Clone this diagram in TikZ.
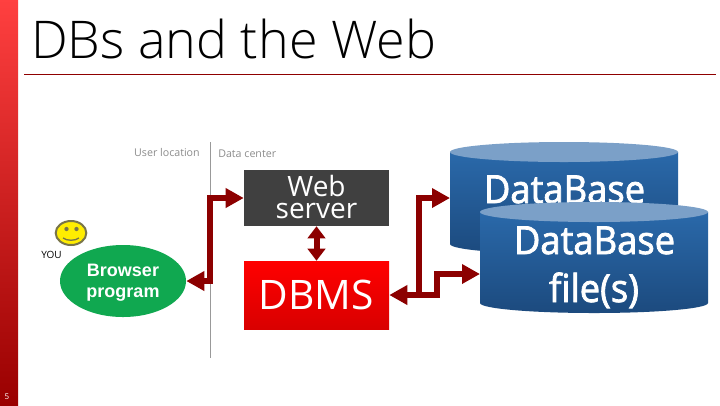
\documentclass[tikz,border=0pt]{standalone}
\usepackage{fontspec}
\setmainfont{Open Sans}
\newfontfamily\arialf{Liberation Sans}
\newfontfamily\thinf[UprightFont=* Light]{Open Sans}
\newfontfamily\dbf[FakeBold=2,FakeStretch=0.94]{Open Sans}
\usetikzlibrary{arrows.meta,shapes.geometric}
\definecolor{arrowred}{HTML}{8C0000}
\definecolor{cyltop}{HTML}{7BA0C8}
\definecolor{cylhi}{HTML}{2A69AA}
\definecolor{cyllo}{HTML}{1C4A7E}
\definecolor{browsergreen}{HTML}{10A850}
\tikzset{
  conn/.style={draw=arrowred,line width=4.5pt,line join=miter,-{Triangle[length=13.5pt,width=14pt]}},
  conntwo/.style={conn,{Triangle[length=13.5pt,width=14pt]}-{Triangle[length=13.5pt,width=14pt]}},
  connshort/.style={conn,{Triangle[length=9pt,width=13pt]}-{Triangle[length=9pt,width=13pt]}},
  graytext/.style={text=black!45,font=\fontsize{8}{9}\selectfont,inner sep=0pt},
  box/.style={minimum width=108.75pt,inner sep=0pt,text=white,align=center},
  dbtext/.style={text=white,inner sep=0pt,align=center,font=\dbf\fontsize{29}{33}\selectfont},
}
\begin{document}
\begin{tikzpicture}[x=0.75pt,y=-0.75pt]
\useasboundingbox (0,0) rectangle (720,405);
\fill[white] (0,0) rectangle (720,405);
% side bar
\shade[top color=red!75!white,middle color=black!20!red,bottom color=black!40!red] (0,0) rectangle (18,405);
\node[text=white,inner sep=0pt,font=\fontsize{6}{7}\selectfont] (page) at (7,397) {5};
% title
\node[anchor=base west,inner sep=0pt,font=\thinf\fontsize{39}{48}\selectfont] (title) at (31,58) {DBs and the Web};
\draw[draw=black!30!red!80!black,line width=0.6pt] (24,74) -- (716,74);
% divider
\draw[black!40,line width=0.8pt] (210.5,142) -- (210.5,358);
\node[graytext,anchor=east] (user) at (200,152.5) {User location};
\node[graytext,anchor=west] (center) at (218,153.5) {Data center};
% smiley
\filldraw[fill=yellow!95!orange,draw=black!60!yellow,line width=1.5pt] (71,233) ellipse [x radius=11.5pt,y radius=9pt];
\fill[black!60!yellow] (66.5,229) circle [radius=1.6pt] (76.5,229) circle [radius=1.6pt];
\draw[black!60!yellow,line width=1pt] (63,238) .. controls (67,241) and (75,241) .. (79,238);
\node[inner sep=0pt,font=\fontsize{7.5}{9}\selectfont] (you) at (51.5,254.5) {YOU};
% browser
\node[ellipse,fill=browsergreen,minimum width=94.5pt,minimum height=54pt,inner sep=0pt] (browser) at (123,281) {};
\node[inner sep=0pt,text=white,align=center,font=\arialf\bfseries\fontsize{13.5}{15.75}\selectfont] (browsertext) at (123,283) {Browser\\program};
% boxes
\node[box,fill=black!75,minimum height=42pt] (web) at (316.5,198) {};
\node[inner sep=0pt,text=white,align=center,font=\fontsize{21}{17}\selectfont] (webtext) at (316.5,197) {Web\\server};
\node[box,minimum height=51pt,font=\fontsize{30.5}{36}\selectfont,top color=red,bottom color=black!15!red] (dbms) at (316.5,295) {DBMS};
% cylinder back
\shade[top color=cylhi,bottom color=cyllo] (450,152) -- (450,244) arc[start angle=180,end angle=360,x radius=85.5pt,y radius=7.5pt] -- (678,152) -- cycle;
\fill[cyltop] (564,152) ellipse [x radius=85.5pt,y radius=7.5pt];
\coordinate (dbA) at (450,198);
\node[dbtext,anchor=base] (dbAt) at (564.5,203) {DataBase};
% cylinder front
\shade[top color=cylhi,bottom color=cyllo] (480,212) -- (480,303) arc[start angle=180,end angle=360,x radius=85.5pt,y radius=7.5pt] -- (708,212) -- cycle;
\fill[cyltop] (594,212) ellipse [x radius=85.5pt,y radius=7.5pt];
\coordinate (dbB) at (480,274);
\node[dbtext,anchor=base] (dbBt) at (594.5,254) {DataBase};
\node[dbtext,anchor=base] (dbCt) at (594,302) {file(s)};
% connectors
\coordinate (vx) at (210,0);
\draw[conntwo] (browser.east) -- (vx |- browser.east) -- (vx |- web.west) -- (web.west);
\draw[connshort] (web.south) -- (dbms.north);
\coordinate (elbow) at (437,0);
\coordinate (branch) at (419,0);
\draw[conntwo] (dbms.east) -- (elbow |- dbms.east) -- (elbow |- dbB) -- (dbB);
\draw[conn] (branch |- dbms.east) -- (branch |- dbA) -- (dbA);
\end{tikzpicture}
\end{document}
